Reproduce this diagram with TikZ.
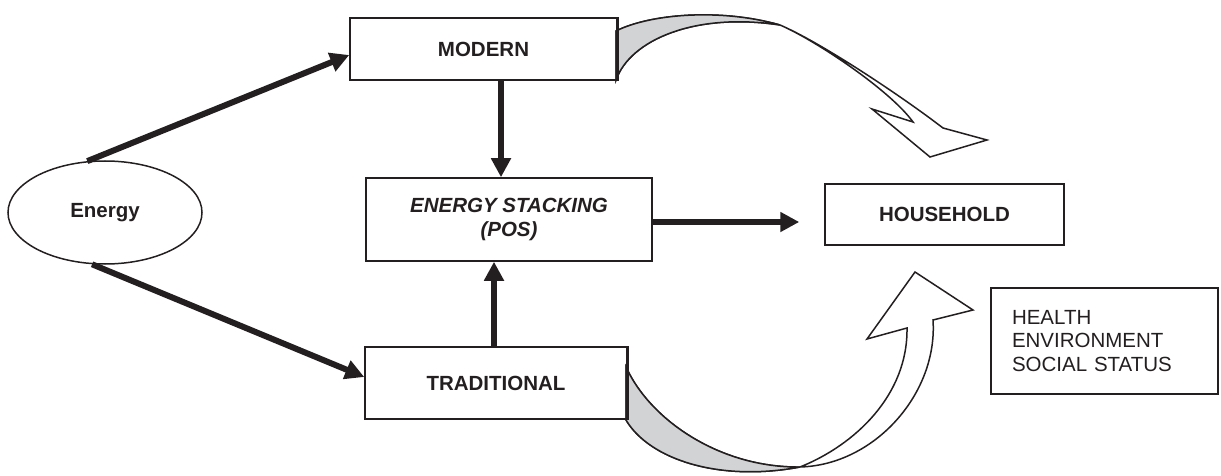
\documentclass[tikz,border=0pt]{standalone}
\usepackage{fontspec}
\setmainfont{Liberation Sans}
\usetikzlibrary{arrows.meta,shapes.geometric,calc}
\definecolor{ink}{RGB}{35,31,32}
\definecolor{ribbon}{RGB}{210,211,213}
\begin{document}
\begin{tikzpicture}[x=1pt,y=-1pt,
  box/.style={draw=ink,line width=1.5pt,rectangle,inner sep=0pt,text=ink,
    font=\fontsize{20.5}{24}\selectfont\bfseries},
  thickarrow/.style={draw=ink,line width=6pt,-{Triangle[width=19pt,length=19pt]}},
  ribbonline/.style={draw=ink,line width=1.5pt,line join=miter}]
\useasboundingbox (0,0) rectangle (1221,476);

% nodes
\node[box,ellipse,minimum width=194pt,minimum height=103pt] (energy) at (105,212.5) {Energy};
\node[box,minimum width=267pt,minimum height=62pt] (modern) at (483.5,49) {MODERN};
\node[box,minimum width=286pt,minimum height=83pt,align=center] (stacking) at (509,219.5)
  {\itshape ENERGY STACKING\\\itshape (POS)};
\node[box,minimum width=262pt,minimum height=72pt] (traditional) at (496,383) {TRADITIONAL};
\node[box,minimum width=239pt,minimum height=61pt] (household) at (944.5,214.5) {HOUSEHOLD};
\node[box,font=\fontsize{20.5}{23.5}\selectfont,align=left,text width=185pt,
  inner xsep=21pt,minimum height=106pt] (health) at (1104.5,341)
  {HEALTH\\ENVIRONMENT\\SOCIAL STATUS};

% straight arrows
\draw[thickarrow] (energy.109) -- ([yshift=-6pt]modern.west);
\draw[thickarrow] (energy.256) -- ([yshift=6pt]traditional.west);
\draw[thickarrow] ([xshift=17.5pt]modern.south) -- ([xshift=-8pt]stacking.north);
\draw[thickarrow] ([xshift=-2pt]traditional.north) -- ([xshift=-15pt]stacking.south);
\draw[thickarrow] ([yshift=-2.5pt]stacking.east) -- ([xshift=-25pt,yshift=-7.5pt]household.west);

% top ribbon arrow
\path[ribbonline,fill=white]
  (616,31) .. controls (650,14) and (720,8) .. (780,25)
  .. controls (815,40) and (890,90) .. (913,122)
  -- (872,109) -- (930,157) -- (987,140) -- (943,128)
  .. controls (900,95) and (820,42) .. (780,25)
  .. controls (695,12) and (630,40) .. (616,80) -- cycle;
\path[ribbonline,fill=ribbon]
  (616,31) .. controls (650,14) and (720,8) .. (780,25)
  .. controls (695,12) and (630,40) .. (616,80) -- cycle;

% bottom ribbon arrow
\path[ribbonline,fill=white]
  (626,367) .. controls (650,420) and (720,468) .. (800,467)
  .. controls (875,465) and (938,393) .. (933,320)
  -- (973,310) -- (915,272) -- (867,339) -- (907,328)
  .. controls (908,395) and (855,445) .. (800,467)
  .. controls (720,482) and (650,460) .. (626,420) -- cycle;
\path[ribbonline,fill=ribbon]
  (626,367) .. controls (650,420) and (720,468) .. (800,467)
  .. controls (720,482) and (650,460) .. (626,420) -- cycle;

% redraw box edges over ribbons
\draw[ink,line width=1.5pt] (modern.north east) -- (modern.south east);
\draw[ink,line width=1.5pt] (traditional.north east) -- (traditional.south east);
\end{tikzpicture}
\end{document}
